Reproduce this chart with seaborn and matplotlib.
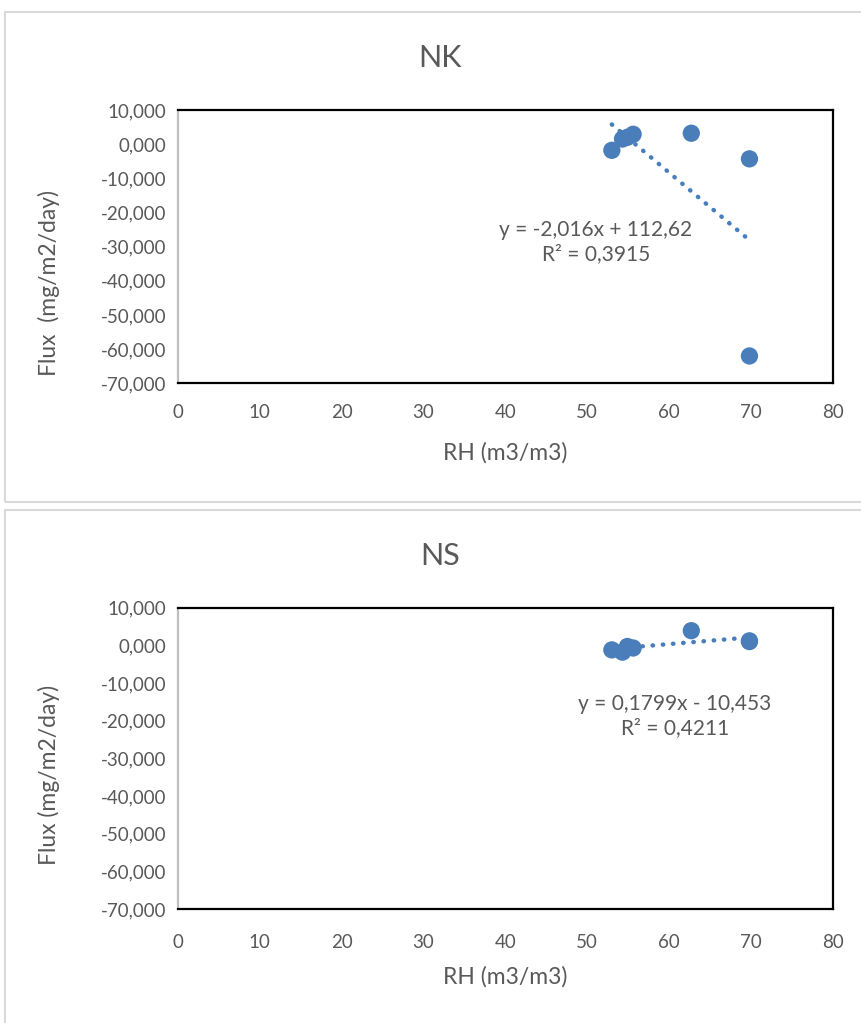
import numpy as np
import pandas as pd
import matplotlib
matplotlib.use("Agg")
import matplotlib.pyplot as plt
from matplotlib.patches import Rectangle
import seaborn as sns

# Relative humidity (x) and flux (y) per site
nk_rh = [53.0, 54.3, 54.9, 55.6, 62.7, 69.8, 69.8]
nk_flux = [-1.8, 1.5, 2.0, 2.9, 3.2, -4.3, -62.0]
ns_rh = [53.0, 54.3, 54.9, 55.6, 62.7, 69.8, 69.8]
ns_flux = [-1.2, -1.8, -0.3, -0.7, 3.9, 1.0, 1.2]

# Linear trend coefficients (slope, intercept) and R²
nk_fit = [-2.016, 112.62]
nk_r2 = 0.3915
ns_fit = [0.1799, -10.453]
ns_r2 = 0.4211

x_ticks = [0, 10, 20, 30, 40, 50, 60, 70, 80]
y_ticks = [10, 0, -10, -20, -30, -40, -50, -60, -70]

sns.set_theme(style="white")
plt.rcParams["font.family"] = ["Lato", "DejaVu Sans"]

BLUE = "#4a7ebb"
GREY_TXT = "#595959"

fig = plt.figure(figsize=(8.61, 10.23), dpi=100)
W, H = 861, 1023


def fig_rect(x0, y0, x1, y1):
    return [x0 / W, 1 - y1 / H, (x1 - x0) / W, (y1 - y0) / H]


# chart area borders
for (y0, y1) in [(12, 502), (510, 1040)]:
    fig.patches.append(Rectangle((5 / W, 1 - y1 / H), (870 - 5) / W, (y1 - y0) / H,
                                 transform=fig.transFigure, fill=False,
                                 edgecolor="#d9d9d9", linewidth=1.5))


def fmt_y(v):
    s = f"{abs(v):.3f}".replace(".", ",")
    return ("-" if v < 0 else "") + s


def eq_label(fit, r2):
    slope = f"{fit[0]:.4g}".replace(".", ",")
    b = fit[1]
    sign = "+" if b >= 0 else "-"
    inter = f"{abs(b):g}".replace(".", ",")
    r2s = f"{r2:.4f}".replace(".", ",")
    return f"y = {slope}x {sign} {inter}\nR² = {r2s}"


def draw(rect, rh, flux, fit, r2, title, ylabel, eq_xy, title_y,
         xpad, xlab_y, ylab_y):
    ax = fig.add_axes(fig_rect(*rect))
    df = pd.DataFrame({"rh": rh, "flux": flux})
    sns.scatterplot(data=df, x="rh", y="flux", ax=ax, color=BLUE, s=155,
                    edgecolor="none", zorder=3, legend=False)
    xs = np.array([min(rh), max(rh)])
    ax.plot(xs, fit[0] * xs + fit[1], linestyle=(0, (0.1, 2.2)), color=BLUE,
            linewidth=3.2, dash_capstyle="round", zorder=2)
    ax.set_xlim(0, 80)
    ax.set_ylim(-70, 10)
    ax.set_xticks(x_ticks)
    ax.set_yticks(y_ticks)
    ax.set_xticklabels([str(t) for t in x_ticks])
    ax.set_yticklabels([fmt_y(t) for t in y_ticks])
    ax.tick_params(axis="both", length=0, labelsize=13.5, colors=GREY_TXT)
    ax.tick_params(axis="y", pad=8)
    ax.tick_params(axis="x", pad=xpad)
    for side in ["top", "right", "bottom"]:
        ax.spines[side].set_color("black")
        ax.spines[side].set_linewidth(1.6)
    ax.spines["left"].set_color("#bfbfbf")
    ax.spines["left"].set_linewidth(1.6)
    ax.set_xlabel("RH (m3/m3)", fontsize=16.5, color=GREY_TXT)
    ax.set_ylabel(ylabel, fontsize=16.5, color=GREY_TXT)
    ax.xaxis.set_label_coords(0.5, xlab_y)
    ax.yaxis.set_label_coords((60 - 177.7) / (833 - 177.7), ylab_y)
    ax.grid(False)
    fig.text(440 / W, 1 - title_y / H, title, fontsize=22, color=GREY_TXT,
             ha="center", va="center")
    fig.text(eq_xy[0] / W, 1 - eq_xy[1] / H, eq_label(fit, r2),
             fontsize=15, color=GREY_TXT, ha="center", va="center",
             linespacing=1.3)
    return ax


draw((177.7, 110, 833, 383.3), nk_rh, nk_flux, nk_fit, nk_r2, "NK",
     "Flux  (mg/m2/day)", (596, 242), 58, 15, -0.215, 0.367)
draw((177.7, 607.7, 833, 909), ns_rh, ns_flux, ns_fit, ns_r2, "NS",
     "Flux (mg/m2/day)", (675, 716), 556, 18, -0.19, 0.445)

fig.savefig("out.png", dpi=100, facecolor="white")
